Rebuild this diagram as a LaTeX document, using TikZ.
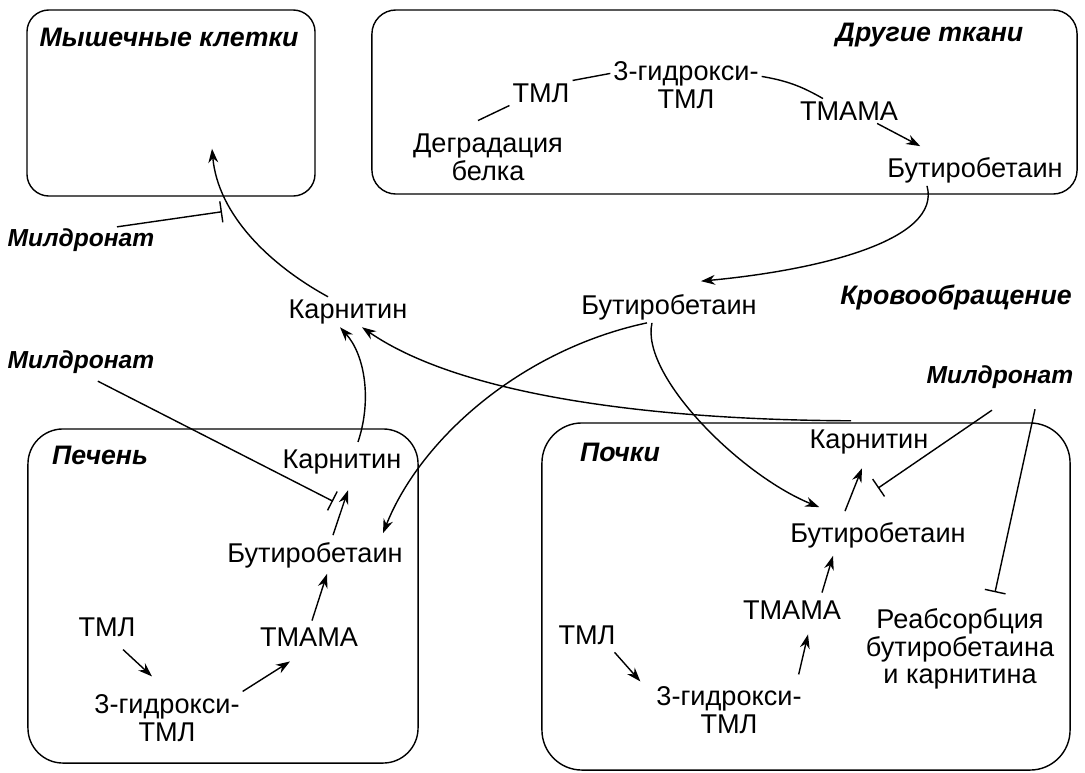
\documentclass[tikz,border=0pt]{standalone}
\usepackage{fontspec}
\setmainfont{Liberation Sans}
\usetikzlibrary{arrows.meta}

\begin{document}
\begin{tikzpicture}[
    x=0.025cm, y=0.025cm,
    organ/.style={rectangle, draw, line width=1pt},
    chem/.style={align=center, inner sep=2pt, font=\fontsize{19.3}{19.8}\selectfont},
    tag/.style={inner sep=1pt, font=\fontsize{19}{21}\selectfont\bfseries\itshape},
    drug/.style={tag, font=\fontsize{17.5}{20}\selectfont\bfseries\itshape},
    line/.style={draw, line width=1pt},
    conv/.style={draw, line width=1pt, -{Stealth[length=10pt,width=7pt]}},
    block/.style={draw, line width=1pt, -{Bar[width=15pt]}}
]
\useasboundingbox (0,0) rectangle (1085,-772);

% Compartments
\node[organ, rounded corners=0.55cm, minimum width=7.2cm, minimum height=4.65cm] (muscle) at (171,-103) {};
\node[organ, rounded corners=0.6cm, minimum width=17.625cm, minimum height=4.6cm] (other) at (724.5,-102) {};
\node[organ, rounded corners=0.875cm, minimum width=9.75cm, minimum height=8.35cm] (liver) at (223,-596) {};
\node[organ, rounded corners=1cm, minimum width=13.2cm, minimum height=8.675cm] (kidney) at (806,-596.5) {};

% Labels
\node[tag] (musclelbl) at (169,-37) {Мышечные клетки};
\node[tag, anchor=east] (otherlbl) at (1025,-35) {Другие ткани};
\node[tag] (liverlbl) at (100,-455) {Печень};
\node[tag] (kidneylbl) at (620,-452) {Почки};
\node[tag] (bloodlbl) at (956,-297) {Кровообращение};
\node[drug] (milT) at (81,-240) {Милдронат};
\node[drug] (milL) at (81,-362) {Милдронат};
\node[drug] (milR) at (1000,-377) {Милдронат};

% Metabolites: other tissues
\node[chem] (degr) at (488,-157) {Деградация\\белка};
\node[chem] (tml1) at (541,-93) {ТМЛ};
\node[chem] (hyd1) at (686,-85) {3-гидрокси-\\ТМЛ};
\node[chem] (tmama1) at (849,-111) {ТМАМА};
\node[chem] (butb1) at (975,-170) {Бутиробетаин};

% Metabolites: blood
\node[chem] (butb) at (669,-307) {Бутиробетаин};
\node[chem] (carn) at (348,-312) {Карнитин};

% Metabolites: liver
\node[chem] (carnL) at (342,-462) {Карнитин};
\node[chem] (butbL) at (315,-555) {Бутиробетаин};
\node[chem] (tmlL) at (107,-627) {ТМЛ};
\node[chem] (tmamaL) at (309,-637) {ТМАМА};
\node[chem] (hydL) at (167,-718) {3-гидрокси-\\ТМЛ};

% Metabolites: kidney
\node[chem] (carnK) at (869,-442) {Карнитин};
\node[chem] (butbK) at (878,-535) {Бутиробетаин};
\node[chem] (tmamaK) at (792,-610) {ТМАМА};
\node[chem] (tmlK) at (587,-635) {ТМЛ};
\node[chem] (hydK) at (729,-710) {3-гидрокси-\\ТМЛ};
\node[chem] (reabs) at (960,-649) {Реабсорбция\\бутиробетаина\\и карнитина};

% Pathways: other tissues
\path[line] ([xshift=-0.25cm,yshift=0.25cm]degr.north) -- (tml1.south west);
\path[line] (tml1.north east) -- ([yshift=-0.375cm]hyd1.north west);
\path[line] ([yshift=-0.45cm]hyd1.north east) to[bend left=10] ([xshift=-0.65cm]tmama1.north);
\path[conv] ([xshift=-0.6cm]tmama1.south east) -- ([xshift=0.9cm,yshift=0.2cm]butb1.north west);

% Pathways: transport
\path[conv] ([xshift=-1.2cm]butb1.south) .. controls (942,-240) and (820,-270) .. ([xshift=0.8cm,yshift=0.25cm]butb.north);
\path[conv] ([xshift=-0.55cm]butb.south) .. controls (520,-350) and (420,-440) .. ([xshift=1.7cm,yshift=0.15cm]butbL.north);
\path[conv] ([xshift=-0.425cm]butb.south) .. controls (640,-375) and (740,-475) .. ([xshift=0.8cm,yshift=0.3cm]butbK.north west);
\path[conv] ([xshift=-0.45cm,yshift=0.15cm]carnK.north) .. controls (650,-420) and (460,-395) .. ([xshift=0.35cm]carn.south);
\path[conv] ([xshift=0.4cm,yshift=0.12cm]carnL.north) .. controls (372,-400) and (365,-355) .. ([xshift=-0.2cm]carn.south);
\path[conv] ([xshift=-0.5cm]carn.north) .. controls (270,-265) and (218,-215) .. ([xshift=1.025cm,yshift=1.2cm]muscle.south);

% Pathways: liver
\path[conv] ([xshift=0.4cm,yshift=-0.25cm]tmlL.south) -- ([xshift=-0.375cm,yshift=0.375cm]hydL.north);
\path[conv] (hydL.north east) -- ([xshift=-0.475cm,yshift=-0.3cm]tmamaL.south);
\path[conv] ([xshift=0.075cm,yshift=0.1cm]tmamaL.north) -- ([xshift=0.3cm,yshift=-0.075cm]butbL.south);
\path[conv] ([xshift=0.45cm,yshift=0.1cm]butbL.north) -- ([xshift=0.15cm,yshift=-0.325cm]carnL.south);

% Pathways: kidney
\path[conv] ([xshift=-0.1cm,yshift=-0.12cm]tmlK.south east) -- ([xshift=-0.325cm,yshift=0.05cm]hydK.north west);
\path[conv] ([xshift=-0.15cm,yshift=0.225cm]hydK.north east) -- ([xshift=0.4cm,yshift=-0.3cm]tmamaK.south);
\path[conv] ([xshift=0.75cm,yshift=0.125cm]tmamaK.north) -- ([xshift=-1.125cm,yshift=-0.125cm]butbK.south);
\path[conv] ([xshift=-0.825cm,yshift=0.2cm]butbK.north) -- ([xshift=-0.175cm,yshift=-0.275cm]carnK.south);

% Inhibition
\path[block] ([xshift=0.9cm]milT.north) -- ([xshift=1.275cm,yshift=-0.375cm]muscle.south);
\path[block] ([xshift=0.42cm,yshift=-0.15cm]milL.south) -- ([xshift=-0.225cm,yshift=-0.6cm]carnL.south);
\path[block] ([xshift=-0.2cm,yshift=-0.5cm]milR.south) -- ([yshift=0.775cm]butbK.north);
\path[block] ([xshift=0.875cm,yshift=-0.475cm]milR.south) -- ([xshift=0.875cm,yshift=0.325cm]reabs.north);

\end{tikzpicture}
\end{document}
